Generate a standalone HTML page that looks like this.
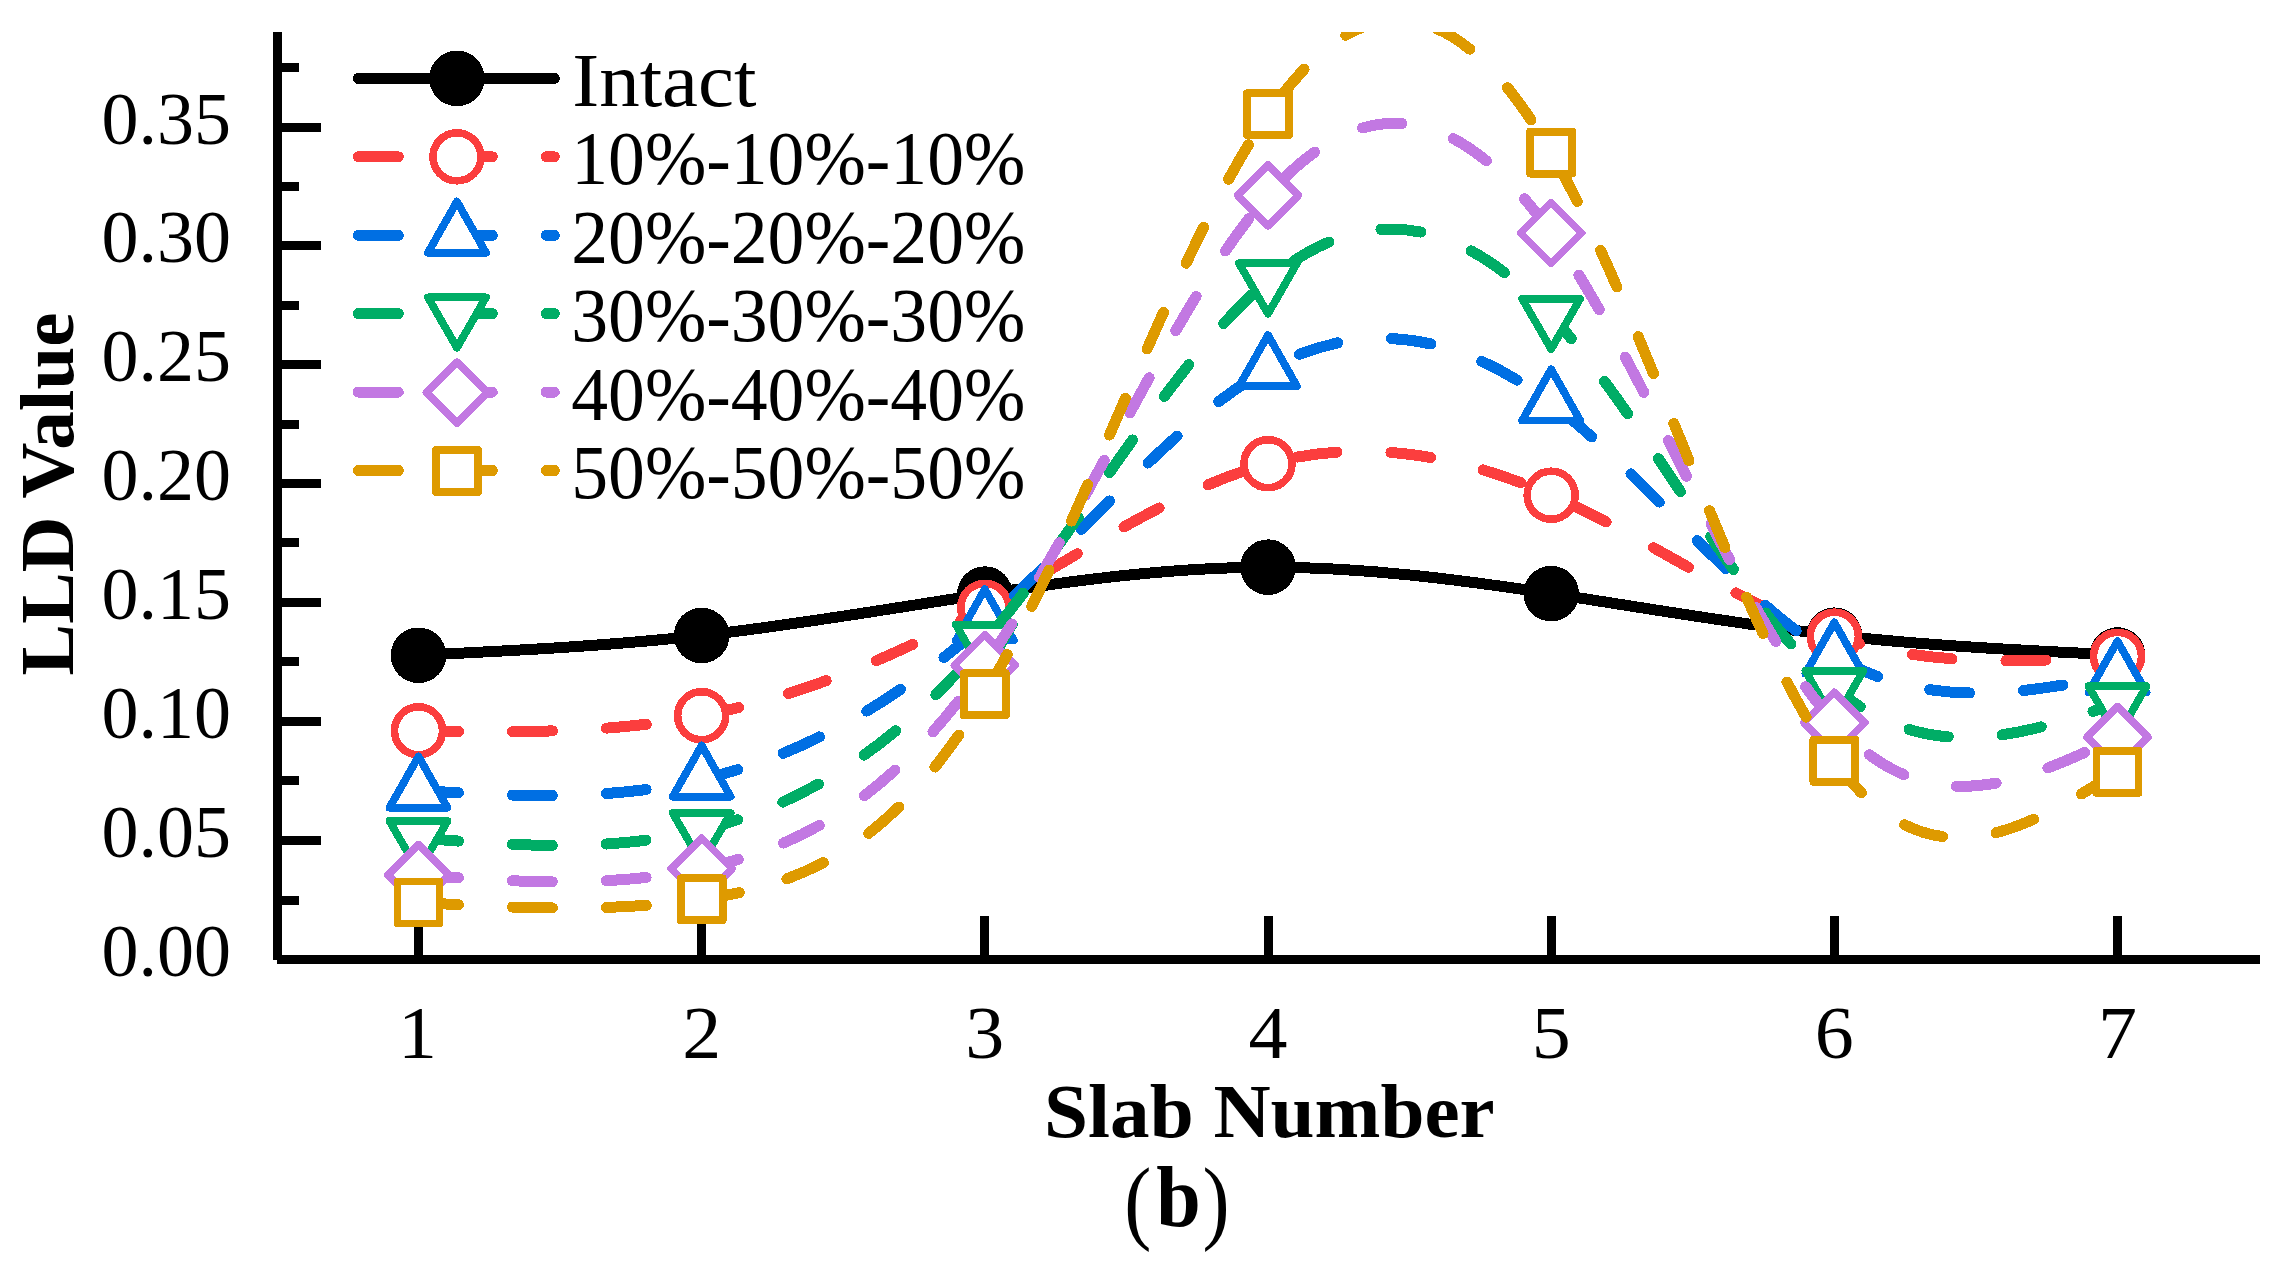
<!DOCTYPE html>
<html lang="en"><head><meta charset="utf-8"><title>LLD Value vs Slab Number (b)</title>
<style>
html,body{margin:0;padding:0;background:#fff;}
body{width:2280px;height:1261px;overflow:hidden;}
svg{display:block;}
text{font-family:"Liberation Serif","DejaVu Serif",serif;fill:#000;}
.b{font-weight:bold;}
</style></head><body>
<svg width="2280" height="1261" viewBox="0 0 2280 1261" shape-rendering="crispEdges">
<rect width="2280" height="1261" fill="#fff"/>
<defs><clipPath id="plot"><rect x="277" y="32" width="1983" height="932"/></clipPath><clipPath id="plotA"><rect x="277" y="32" width="483" height="932"/></clipPath><clipPath id="plotB"><rect x="760" y="32" width="1500" height="932"/></clipPath></defs>
<g fill="#000" shape-rendering="crispEdges">
<rect x="273" y="32" width="9" height="928"/>
<rect x="277" y="955" width="1983" height="9"/>
<rect x="277" y="63" width="22" height="9"/>
<rect x="277" y="123" width="44" height="9"/>
<rect x="277" y="182" width="22" height="9"/>
<rect x="277" y="241" width="44" height="9"/>
<rect x="277" y="301" width="22" height="9"/>
<rect x="277" y="360" width="44" height="9"/>
<rect x="277" y="420" width="22" height="9"/>
<rect x="277" y="479" width="44" height="9"/>
<rect x="277" y="538" width="22" height="9"/>
<rect x="277" y="598" width="44" height="9"/>
<rect x="277" y="657" width="22" height="9"/>
<rect x="277" y="717" width="44" height="9"/>
<rect x="277" y="776" width="22" height="9"/>
<rect x="277" y="836" width="44" height="9"/>
<rect x="277" y="896" width="22" height="9"/>
<rect x="277" y="955" width="44" height="9"/>
<rect x="414" y="916" width="9" height="44"/>
<rect x="697" y="916" width="9" height="44"/>
<rect x="980" y="916" width="9" height="44"/>
<rect x="1264" y="916" width="9" height="44"/>
<rect x="1547" y="916" width="9" height="44"/>
<rect x="1830" y="916" width="9" height="44"/>
<rect x="2113" y="916" width="9" height="44"/>
</g>
<g id="intact">
<path clip-path="url(#plot)" d="M418.5 655.3 C512.889 650.67 607.278 646.04 701.667 635.5 C796.056 624.96 890.444 608.511 984.833 594.1 C1079.222 579.689 1173.611 567.317 1268 567.2 C1362.389 567.083 1456.778 579.222 1551.167 593.6 C1645.556 607.978 1739.945 624.594 1834.333 635.2 C1928.722 645.806 2023.111 650.403 2117.5 655" fill="none" stroke="#000000" stroke-width="11" stroke-linecap="round"/>
<circle cx="418.5" cy="655.3" r="27.8" fill="#000"/>
<circle cx="701.667" cy="635.5" r="27.8" fill="#000"/>
<circle cx="984.833" cy="594.1" r="27.8" fill="#000"/>
<circle cx="1268" cy="567.2" r="27.8" fill="#000"/>
<circle cx="1551.167" cy="593.6" r="27.8" fill="#000"/>
<circle cx="1834.333" cy="635.2" r="27.8" fill="#000"/>
<circle cx="2117.5" cy="655" r="27.8" fill="#000"/>
</g>
<g id="p10">
<path clip-path="url(#plotA)" d="M418.5 730.8 C512.889 732.359 607.278 733.919 701.667 715.7 C796.056 697.481 890.444 659.484 984.833 607.4 C1079.222 555.316 1173.611 489.147 1268 463.7 C1362.389 438.253 1456.778 453.53 1551.167 495.2 C1645.556 536.87 1739.945 604.934 1834.333 636.2 C1928.722 667.466 2023.111 661.933 2117.5 656.4" fill="none" stroke="#FB3E3E" stroke-width="11" stroke-linecap="round" stroke-dasharray="40 54"/>
<path clip-path="url(#plotB)" d="M418.5 730.8 C512.889 732.359 607.278 733.919 701.667 715.7 C796.056 697.481 890.444 659.484 984.833 607.4 C1079.222 555.316 1173.611 489.147 1268 463.7 C1362.389 438.253 1456.778 453.53 1551.167 495.2 C1645.556 536.87 1739.945 604.934 1834.333 636.2 C1928.722 667.466 2023.111 661.933 2117.5 656.4" fill="none" stroke="#FB3E3E" stroke-width="11" stroke-linecap="round" stroke-dasharray="39.96 53.946" stroke-dashoffset="2"/>
<circle cx="418.5" cy="730.8" r="24" stroke="#FB3E3E" stroke-width="7.6" fill="#fff" stroke-linejoin="round"/>
<circle cx="701.667" cy="715.7" r="24" stroke="#FB3E3E" stroke-width="7.6" fill="#fff" stroke-linejoin="round"/>
<circle cx="984.833" cy="607.4" r="24" stroke="#FB3E3E" stroke-width="7.6" fill="#fff" stroke-linejoin="round"/>
<circle cx="1268" cy="463.7" r="24" stroke="#FB3E3E" stroke-width="7.6" fill="#fff" stroke-linejoin="round"/>
<circle cx="1551.167" cy="495.2" r="24" stroke="#FB3E3E" stroke-width="7.6" fill="#fff" stroke-linejoin="round"/>
<circle cx="1834.333" cy="636.2" r="24" stroke="#FB3E3E" stroke-width="7.6" fill="#fff" stroke-linejoin="round"/>
<circle cx="2117.5" cy="656.4" r="24" stroke="#FB3E3E" stroke-width="7.6" fill="#fff" stroke-linejoin="round"/>
</g>
<g id="p20">
<path clip-path="url(#plotA)" d="M418.5 790.5 C512.889 796.097 607.278 801.693 701.667 779.5 C796.056 757.307 890.444 707.323 984.833 623.2 C1079.222 539.077 1173.611 420.814 1268 369.1 C1362.389 317.386 1456.778 332.219 1551.167 403.3 C1645.556 474.381 1739.945 601.709 1834.333 656.4 C1928.722 711.091 2023.111 693.146 2117.5 675.2" fill="none" stroke="#006FE3" stroke-width="11" stroke-linecap="round" stroke-dasharray="40 54"/>
<path clip-path="url(#plotB)" d="M418.5 790.5 C512.889 796.097 607.278 801.693 701.667 779.5 C796.056 757.307 890.444 707.323 984.833 623.2 C1079.222 539.077 1173.611 420.814 1268 369.1 C1362.389 317.386 1456.778 332.219 1551.167 403.3 C1645.556 474.381 1739.945 601.709 1834.333 656.4 C1928.722 711.091 2023.111 693.146 2117.5 675.2" fill="none" stroke="#006FE3" stroke-width="11" stroke-linecap="round" stroke-dasharray="39.96 53.946" stroke-dashoffset="5.5"/>
<polygon points="418.5,756.5 447.5,807.7 389.5,807.7" stroke="#006FE3" stroke-width="7.8" fill="#fff" stroke-linejoin="round"/>
<polygon points="701.667,745.5 730.667,796.7 672.667,796.7" stroke="#006FE3" stroke-width="7.8" fill="#fff" stroke-linejoin="round"/>
<polygon points="984.833,589.2 1013.833,640.4 955.833,640.4" stroke="#006FE3" stroke-width="7.8" fill="#fff" stroke-linejoin="round"/>
<polygon points="1268,335.1 1297,386.3 1239,386.3" stroke="#006FE3" stroke-width="7.8" fill="#fff" stroke-linejoin="round"/>
<polygon points="1551.167,369.3 1580.167,420.5 1522.167,420.5" stroke="#006FE3" stroke-width="7.8" fill="#fff" stroke-linejoin="round"/>
<polygon points="1834.333,622.4 1863.333,673.6 1805.333,673.6" stroke="#006FE3" stroke-width="7.8" fill="#fff" stroke-linejoin="round"/>
<polygon points="2117.5,641.2 2146.5,692.4 2088.5,692.4" stroke="#006FE3" stroke-width="7.8" fill="#fff" stroke-linejoin="round"/>
</g>
<g id="p30">
<path clip-path="url(#plotA)" d="M418.5 838 C512.889 845.493 607.278 852.986 701.667 830 C796.056 807.014 890.444 753.547 984.833 641.6 C1079.222 529.653 1173.611 359.224 1268 280.3 C1362.389 201.376 1456.778 213.955 1551.167 315.7 C1645.556 417.445 1739.945 608.356 1834.333 687.8 C1928.722 767.244 2023.111 735.222 2117.5 703.2" fill="none" stroke="#00AD66" stroke-width="11" stroke-linecap="round" stroke-dasharray="40 54"/>
<path clip-path="url(#plotB)" d="M418.5 838 C512.889 845.493 607.278 852.986 701.667 830 C796.056 807.014 890.444 753.547 984.833 641.6 C1079.222 529.653 1173.611 359.224 1268 280.3 C1362.389 201.376 1456.778 213.955 1551.167 315.7 C1645.556 417.445 1739.945 608.356 1834.333 687.8 C1928.722 767.244 2023.111 735.222 2117.5 703.2" fill="none" stroke="#00AD66" stroke-width="11" stroke-linecap="round" stroke-dasharray="40 54" stroke-dashoffset="5.5"/>
<polygon points="418.5,871.4 447.5,821 389.5,821" stroke="#00AD66" stroke-width="7.8" fill="#fff" stroke-linejoin="round"/>
<polygon points="701.667,863.4 730.667,813 672.667,813" stroke="#00AD66" stroke-width="7.8" fill="#fff" stroke-linejoin="round"/>
<polygon points="984.833,675 1013.833,624.6 955.833,624.6" stroke="#00AD66" stroke-width="7.8" fill="#fff" stroke-linejoin="round"/>
<polygon points="1268,313.7 1297,263.3 1239,263.3" stroke="#00AD66" stroke-width="7.8" fill="#fff" stroke-linejoin="round"/>
<polygon points="1551.167,349.1 1580.167,298.7 1522.167,298.7" stroke="#00AD66" stroke-width="7.8" fill="#fff" stroke-linejoin="round"/>
<polygon points="1834.333,721.2 1863.333,670.8 1805.333,670.8" stroke="#00AD66" stroke-width="7.8" fill="#fff" stroke-linejoin="round"/>
<polygon points="2117.5,736.6 2146.5,686.2 2088.5,686.2" stroke="#00AD66" stroke-width="7.8" fill="#fff" stroke-linejoin="round"/>
</g>
<g id="p40">
<path clip-path="url(#plotA)" d="M418.5 875 C512.889 881.792 607.278 888.584 701.667 868.6 C796.056 848.616 890.444 801.858 984.833 665.3 C1079.222 528.742 1173.611 302.386 1268 195.3 C1362.389 88.214 1456.778 100.4 1551.167 233 C1645.556 365.6 1739.945 618.614 1834.333 722.7 C1928.722 826.786 2023.111 781.943 2117.5 737.1" fill="none" stroke="#C278E2" stroke-width="11" stroke-linecap="round" stroke-dasharray="40 54"/>
<path clip-path="url(#plotB)" d="M418.5 875 C512.889 881.792 607.278 888.584 701.667 868.6 C796.056 848.616 890.444 801.858 984.833 665.3 C1079.222 528.742 1173.611 302.386 1268 195.3 C1362.389 88.214 1456.778 100.4 1551.167 233 C1645.556 365.6 1739.945 618.614 1834.333 722.7 C1928.722 826.786 2023.111 781.943 2117.5 737.1" fill="none" stroke="#C278E2" stroke-width="11" stroke-linecap="round" stroke-dasharray="39.96 53.946" stroke-dashoffset="5.5"/>
<polygon points="418.5,844.5 449,875 418.5,905.5 388,875" stroke="#C278E2" stroke-width="7.5" fill="#fff" stroke-linejoin="round"/>
<polygon points="701.667,838.1 732.167,868.6 701.667,899.1 671.167,868.6" stroke="#C278E2" stroke-width="7.5" fill="#fff" stroke-linejoin="round"/>
<polygon points="984.833,634.8 1015.333,665.3 984.833,695.8 954.333,665.3" stroke="#C278E2" stroke-width="7.5" fill="#fff" stroke-linejoin="round"/>
<polygon points="1268,164.8 1298.5,195.3 1268,225.8 1237.5,195.3" stroke="#C278E2" stroke-width="7.5" fill="#fff" stroke-linejoin="round"/>
<polygon points="1551.167,202.5 1581.667,233 1551.167,263.5 1520.667,233" stroke="#C278E2" stroke-width="7.5" fill="#fff" stroke-linejoin="round"/>
<polygon points="1834.333,692.2 1864.833,722.7 1834.333,753.2 1803.833,722.7" stroke="#C278E2" stroke-width="7.5" fill="#fff" stroke-linejoin="round"/>
<polygon points="2117.5,706.6 2148,737.1 2117.5,767.6 2087,737.1" stroke="#C278E2" stroke-width="7.5" fill="#fff" stroke-linejoin="round"/>
</g>
<g id="p50">
<path clip-path="url(#plotA)" d="M418.5 902.5 C512.889 907.749 607.278 912.998 701.667 899.3 C796.056 885.602 890.444 852.958 984.833 694.3 C1079.222 535.642 1173.611 250.971 1268 114.3 C1362.389 -22.371 1456.778 -11.042 1551.167 152.6 C1645.556 316.242 1739.945 632.198 1834.333 760.8 C1928.722 889.402 2023.111 830.651 2117.5 771.9" fill="none" stroke="#DE9A00" stroke-width="11" stroke-linecap="round" stroke-dasharray="40 54"/>
<path clip-path="url(#plotB)" d="M418.5 902.5 C512.889 907.749 607.278 912.998 701.667 899.3 C796.056 885.602 890.444 852.958 984.833 694.3 C1079.222 535.642 1173.611 250.971 1268 114.3 C1362.389 -22.371 1456.778 -11.042 1551.167 152.6 C1645.556 316.242 1739.945 632.198 1834.333 760.8 C1928.722 889.402 2023.111 830.651 2117.5 771.9" fill="none" stroke="#DE9A00" stroke-width="11" stroke-linecap="round" stroke-dasharray="40 54" stroke-dashoffset="4.5"/>
<polygon points="397.5,881.5 439.5,881.5 439.5,923.5 397.5,923.5" stroke="#DE9A00" stroke-width="7.8" fill="#fff" stroke-linejoin="round"/>
<polygon points="680.667,878.3 722.667,878.3 722.667,920.3 680.667,920.3" stroke="#DE9A00" stroke-width="7.8" fill="#fff" stroke-linejoin="round"/>
<polygon points="963.833,673.3 1005.833,673.3 1005.833,715.3 963.833,715.3" stroke="#DE9A00" stroke-width="7.8" fill="#fff" stroke-linejoin="round"/>
<polygon points="1247,93.3 1289,93.3 1289,135.3 1247,135.3" stroke="#DE9A00" stroke-width="7.8" fill="#fff" stroke-linejoin="round"/>
<polygon points="1530.167,131.6 1572.167,131.6 1572.167,173.6 1530.167,173.6" stroke="#DE9A00" stroke-width="7.8" fill="#fff" stroke-linejoin="round"/>
<polygon points="1813.333,739.8 1855.333,739.8 1855.333,781.8 1813.333,781.8" stroke="#DE9A00" stroke-width="7.8" fill="#fff" stroke-linejoin="round"/>
<polygon points="2096.5,750.9 2138.5,750.9 2138.5,792.9 2096.5,792.9" stroke="#DE9A00" stroke-width="7.8" fill="#fff" stroke-linejoin="round"/>
</g>
<g id="legend">
<line x1="358.3" y1="78.4" x2="554.3" y2="78.4" stroke="#000000" stroke-width="11" stroke-linecap="round"/>
<circle cx="456.95" cy="78.4" r="27.8" fill="#000"/>
<text x="572.2" y="105.8" font-size="75.5" textLength="184.3" lengthAdjust="spacingAndGlyphs">Intact</text>
<line x1="358.3" y1="156.82" x2="554.3" y2="156.82" stroke="#FB3E3E" stroke-width="11" stroke-linecap="round" stroke-dasharray="40 54"/>
<circle cx="456.95" cy="156.82" r="24" stroke="#FB3E3E" stroke-width="7.6" fill="#fff" stroke-linejoin="round"/>
<text x="571.3" y="184.42" font-size="75.5" textLength="454" lengthAdjust="spacingAndGlyphs">10%-10%-10%</text>
<line x1="358.3" y1="235.24" x2="554.3" y2="235.24" stroke="#006FE3" stroke-width="11" stroke-linecap="round" stroke-dasharray="40 54"/>
<polygon points="456.95,201.54 485.95,252.74 427.95,252.74" stroke="#006FE3" stroke-width="7.8" fill="#fff" stroke-linejoin="round"/>
<text x="571.3" y="262.84" font-size="75.5" textLength="454" lengthAdjust="spacingAndGlyphs">20%-20%-20%</text>
<line x1="358.3" y1="313.66" x2="554.3" y2="313.66" stroke="#00AD66" stroke-width="11" stroke-linecap="round" stroke-dasharray="40 54"/>
<polygon points="456.95,347.76 485.95,297.36 427.95,297.36" stroke="#00AD66" stroke-width="7.8" fill="#fff" stroke-linejoin="round"/>
<text x="571.3" y="341.26" font-size="75.5" textLength="454" lengthAdjust="spacingAndGlyphs">30%-30%-30%</text>
<line x1="358.3" y1="392.08" x2="554.3" y2="392.08" stroke="#C278E2" stroke-width="11" stroke-linecap="round" stroke-dasharray="40 54"/>
<polygon points="456.95,362.08 487.45,392.58 456.95,423.08 426.45,392.58" stroke="#C278E2" stroke-width="7.5" fill="#fff" stroke-linejoin="round"/>
<text x="571.3" y="419.68" font-size="75.5" textLength="454" lengthAdjust="spacingAndGlyphs">40%-40%-40%</text>
<line x1="358.3" y1="470.5" x2="554.3" y2="470.5" stroke="#DE9A00" stroke-width="11" stroke-linecap="round" stroke-dasharray="40 54"/>
<polygon points="435.95,449.9 477.95,449.9 477.95,491.9 435.95,491.9" stroke="#DE9A00" stroke-width="7.8" fill="#fff" stroke-linejoin="round"/>
<text x="571.3" y="498.1" font-size="75.5" textLength="454" lengthAdjust="spacingAndGlyphs">50%-50%-50%</text>
</g>
<g id="yticks" font-size="74" text-anchor="end">
<text x="231" y="976.2">0.00</text>
<text x="231" y="857.2">0.05</text>
<text x="231" y="738.2">0.10</text>
<text x="231" y="619.2">0.15</text>
<text x="231" y="500.2">0.20</text>
<text x="231" y="381.2">0.25</text>
<text x="231" y="262.2">0.30</text>
<text x="231" y="144.2">0.35</text>
</g>
<g id="xticks" font-size="74" text-anchor="middle">
<text x="417.5" y="1058" textLength="39" lengthAdjust="spacingAndGlyphs">1</text>
<text x="701.667" y="1058" textLength="39" lengthAdjust="spacingAndGlyphs">2</text>
<text x="984.833" y="1058" textLength="39" lengthAdjust="spacingAndGlyphs">3</text>
<text x="1268" y="1058" textLength="39" lengthAdjust="spacingAndGlyphs">4</text>
<text x="1551.167" y="1058" textLength="39" lengthAdjust="spacingAndGlyphs">5</text>
<text x="1834.333" y="1058" textLength="39" lengthAdjust="spacingAndGlyphs">6</text>
<text x="2117.5" y="1058" textLength="39" lengthAdjust="spacingAndGlyphs">7</text>
</g>
<text class="b" x="1269.4" y="1137.2" font-size="76" text-anchor="middle" textLength="450.6" lengthAdjust="spacingAndGlyphs">Slab Number</text>
<text class="b" transform="translate(72.8 493.9) rotate(-90)" font-size="76" text-anchor="middle" textLength="363" lengthAdjust="spacingAndGlyphs">LLD Value</text>
<text transform="translate(1124.2 1231.9) scale(0.87 1)" font-size="93.5">(</text>
<text class="b" x="1156.2" y="1225.6" font-size="86.5" textLength="44.5" lengthAdjust="spacingAndGlyphs">b</text>
<text transform="translate(1202.6 1231.9) scale(0.87 1)" font-size="93.5">)</text>
</svg></body></html>
